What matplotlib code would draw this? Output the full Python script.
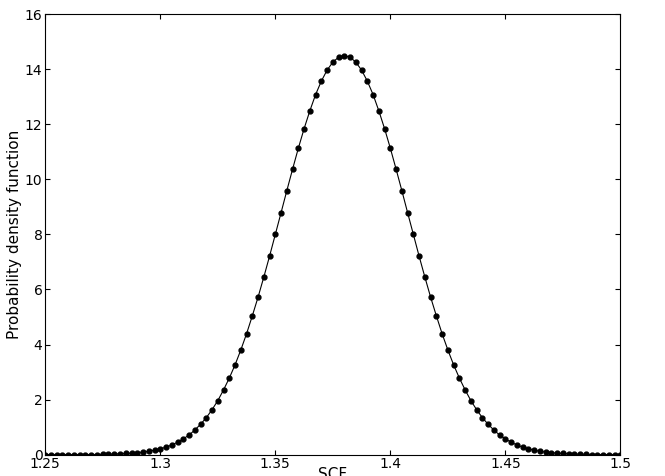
import numpy as np
import matplotlib
matplotlib.use("Agg")
import matplotlib.pyplot as plt

# SCF grid, 1.25 to 1.5 in steps of 0.0025
scf = np.linspace(1.25, 1.5, 101)

# pdf values
pdf_left = [0, 0, 0, 0, 0, 0, 0, 0, 0, 0,
            0.01, 0.01, 0.02, 0.03, 0.04, 0.05, 0.07, 0.09, 0.12, 0.16,
            0.21, 0.27, 0.35, 0.45, 0.57, 0.71, 0.89, 1.10, 1.34, 1.63,
            1.96, 2.35, 2.78, 3.26, 3.80, 4.39, 5.04, 5.72, 6.45, 7.21,
            8.00, 8.79, 9.59, 10.37, 11.13, 11.84, 12.49, 13.08, 13.57, 13.97,
            14.26, 14.44, 14.5]
pdf_right = [14.44, 14.26, 13.97, 13.57, 13.08, 12.49, 11.84, 11.13, 10.37, 9.59,
             8.79, 8.00, 7.21, 6.45, 5.72, 5.04, 4.39, 3.80, 3.26, 2.78,
             2.35, 1.96, 1.63, 1.34, 1.10, 0.89, 0.71, 0.57, 0.45, 0.35,
             0.27, 0.21, 0.16, 0.12, 0.09, 0.07, 0.05, 0.04, 0.03, 0.02,
             0.01, 0.01, 0, 0, 0, 0, 0, 0]
pdf = np.array(pdf_left + pdf_right)

fig = plt.figure(figsize=(6.65, 4.76), dpi=100)
ax = fig.add_axes([0.068, 0.045, 0.865, 0.925])
ax.plot(scf, pdf, color="black", lw=0.8, marker="o", ms=3.5, mfc="black", mec="black")
ax.set_xlim(1.25, 1.5)
ax.set_ylim(0, 16)
ax.set_xticks([1.25, 1.3, 1.35, 1.4, 1.45, 1.5])
ax.set_xticklabels(["1.25", "1.3", "1.35", "1.4", "1.45", "1.5"])
ax.set_yticks(range(0, 17, 2))
ax.tick_params(direction="in", top=True, right=True, labelsize=10, pad=2)
ax.set_xlabel("SCF", fontsize=11, labelpad=-3)
ax.set_ylabel("Probability density function", fontsize=11, labelpad=2)
fig.savefig("out.png", dpi=100)
